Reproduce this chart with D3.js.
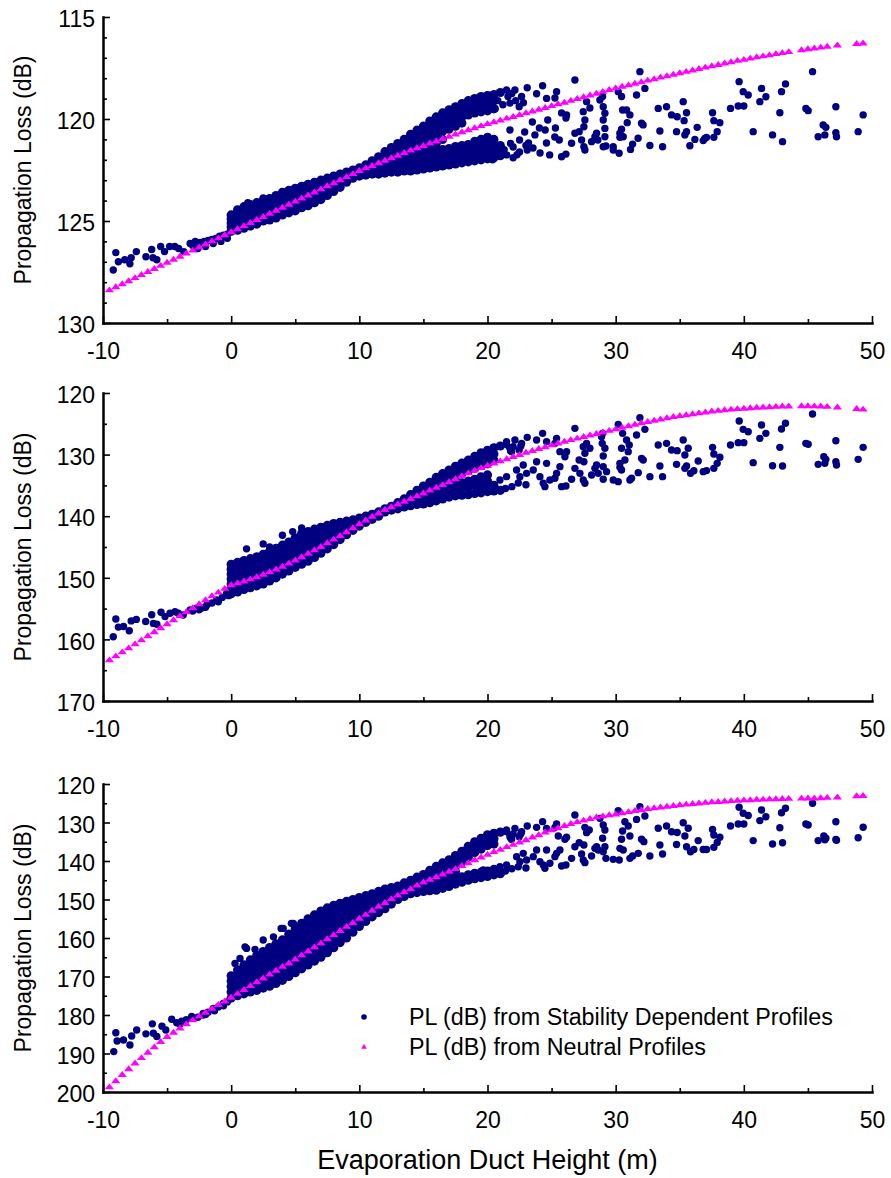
<!DOCTYPE html>
<html>
<head>
<meta charset="utf-8">
<script src="https://cdn.jsdelivr.net/npm/d3@7"></script>
<style>
html, body { margin: 0; padding: 0; background: #fff; }
svg { display: block; font-family: "Liberation Sans", Arial, Helvetica, sans-serif; }
</style>
</head>
<body>
<svg id="chart" width="891" height="1178"></svg>
<script>
// ---------------- axis ticks ----------------
const xTicks = [-10, 0, 10, 20, 30, 40, 50];
const xMinorTicks = [-5, 5, 15, 25, 35, 45];
const yTicks1 = [115, 120, 125, 130];
const yMinor1 = [116, 117, 118, 119, 121, 122, 123, 124, 126, 127, 128, 129];
const yTicks2 = [120, 130, 140, 150, 160, 170];
const yMinor2 = [125, 135, 145, 155, 165];
const yTicks3 = [120, 130, 140, 150, 160, 170, 180, 190, 200];
const yMinor3 = [125, 135, 145, 155, 165, 175, 185, 195];

// ---------------- neutral profiles: duct height (m) and PL (dB) ----------------
const neutralH = [
  -9.5, -9, -8.5, -8, -7.5, -7, -6.5, -6, -5.5, -5,
  -4.5, -4, -3.5, -3, -2.5, -2, -1.5, -1, -0.5, 0,
  0.5, 1, 1.5, 2, 2.5, 3, 3.5, 4, 4.5, 5,
  5.5, 6, 6.5, 7, 7.5, 8, 8.5, 9, 9.5, 10,
  10.5, 11, 11.5, 12, 12.5, 13, 13.5, 14, 14.5, 15,
  15.5, 16, 16.5, 17, 17.5, 18, 18.5, 19, 19.5, 20,
  20.5, 21, 21.5, 22, 22.5, 23, 23.5, 24, 24.5, 25,
  25.5, 26, 26.5, 27, 27.5, 28, 28.5, 29, 29.5, 30,
  30.5, 31, 31.5, 32, 32.5, 33, 33.5, 34, 34.5, 35,
  35.5, 36, 36.5, 37, 37.5, 38, 38.5, 39, 39.5, 40,
  40.5, 41, 41.5, 42, 42.5, 43, 43.5, 44.5, 45, 45.5,
  46, 46.5, 47.3, 48.8, 49.3
];
const neutralPL1 = [
  128.4, 128.25, 128.1, 127.95, 127.8, 127.65, 127.5, 127.35, 127.2, 127.05,
  126.9, 126.75, 126.6, 126.45, 126.3, 126.15, 126.0, 125.85, 125.7, 125.55,
  125.4, 125.25, 125.1, 124.95, 124.8, 124.65, 124.5, 124.35, 124.2, 124.05,
  123.9, 123.75, 123.6, 123.45, 123.3, 123.15, 123.0, 122.85, 122.7, 122.55,
  122.42, 122.3, 122.17, 122.05, 121.92, 121.8, 121.67, 121.55, 121.43, 121.32,
  121.2, 121.1, 120.98, 120.87, 120.76, 120.65, 120.55, 120.45, 120.35, 120.25,
  120.16, 120.07, 119.98, 119.9, 119.81, 119.72, 119.63, 119.55, 119.46, 119.37,
  119.28, 119.2, 119.11, 119.02, 118.93, 118.85, 118.76, 118.67, 118.58, 118.5,
  118.42, 118.35, 118.27, 118.2, 118.12, 118.05, 117.97, 117.9, 117.83, 117.76,
  117.69, 117.62, 117.55, 117.48, 117.41, 117.35, 117.28, 117.22, 117.15, 117.1,
  117.04, 116.98, 116.93, 116.88, 116.82, 116.77, 116.72, 116.63, 116.58, 116.54,
  116.5, 116.46, 116.4, 116.32, 116.3
];
const neutralPL2 = [
  163.4, 162.75, 162.1, 161.45, 160.8, 160.15, 159.5, 158.85, 158.2, 157.55,
  156.9, 156.25, 155.6, 154.95, 154.3, 153.65, 153.0, 152.4, 151.8, 151.2,
  150.9, 150.6, 150.25, 149.9, 149.5, 149.1, 148.65, 148.2, 147.7, 147.2,
  146.65, 146.1, 145.55, 145.0, 144.4, 143.8, 143.2, 142.6, 141.95, 141.3,
  140.7, 140.1, 139.55, 139.0, 138.55, 138.1, 137.65, 137.2, 136.75, 136.3,
  135.85, 135.4, 134.95, 134.5, 134.0, 133.5, 133.05, 132.6, 132.2, 131.8,
  131.45, 131.1, 130.75, 130.4, 130.05, 129.7, 129.4, 129.1, 128.8, 128.5,
  128.2, 127.9, 127.65, 127.4, 127.15, 126.9, 126.65, 126.4, 126.15, 125.9,
  125.65, 125.4, 125.15, 124.9, 124.7, 124.5, 124.3, 124.1, 123.9, 123.75,
  123.6, 123.45, 123.3, 123.15, 123.0, 122.9, 122.8, 122.7, 122.62, 122.55,
  122.47, 122.4, 122.35, 122.3, 122.25, 122.2, 122.18, 122.15, 122.15, 122.17,
  122.2, 122.25, 122.35, 122.6, 122.7
];
const neutralPL3 = [
  198.8, 197.2, 195.6, 194.1, 192.6, 191.2, 189.8, 188.4, 187.0, 185.7,
  184.6, 183.5, 182.4, 181.4, 180.4, 179.4, 178.4, 177.4, 176.5, 175.5,
  174.5, 173.5, 172.5, 171.5, 170.5, 169.5, 168.5, 167.5, 166.6, 165.6,
  164.5, 163.5, 162.4, 161.4, 160.3, 159.2, 158.2, 157.1, 156.1, 155.0,
  154.0, 152.9, 151.9, 150.9, 149.9, 149.0, 148.1, 147.3, 146.4, 145.6,
  144.9, 144.2, 143.5, 142.8, 142.1, 141.3, 140.6, 139.8, 139.1, 138.4,
  137.7, 137.1, 136.4, 135.8, 135.2, 134.6, 133.9, 133.3, 132.6, 132.0,
  131.5, 130.9, 130.4, 129.9, 129.5, 129.1, 128.7, 128.4, 128.1, 127.9,
  127.6, 127.3, 127.0, 126.8, 126.5, 126.3, 126.1, 125.9, 125.7, 125.5,
  125.35, 125.2, 125.05, 124.9, 124.75, 124.65, 124.55, 124.45, 124.35, 124.25,
  124.2, 124.1, 124.05, 124.0, 123.95, 123.9, 123.85, 123.8, 123.75, 123.75,
  123.7, 123.6, 123.5, 123.2, 123.1
];

// ---------------- stability dependent profiles, panel 1 ----------------
const stabilitySparse1 = [
  [-9.2,127.4],[-9.0,126.55],[-8.8,127.0],[-8.3,126.9],[-7.9,127.1],[-7.8,126.8],[-7.4,126.5],
  [-6.65,126.75],[-6.2,126.4],[-6.1,126.8],[-5.8,126.9],[-5.5,126.25],[-5.2,126.5],[-4.8,126.25],
  [-4.4,126.25],[-4.1,126.35],[-3.7,126.5],[-3.2,126.1],[-2.8,126.0],[-3.0,126.2],[-2.6,126.35],
  [-2.4,126.05],[-2.1,126.0],[-2.0,126.25],[-1.8,125.95],[-1.5,125.9],[-1.4,126.1],[-1.2,125.85],
  [-0.9,125.75],[-0.8,126.0],[-0.6,125.7],[-0.3,125.65],[-0.3,125.85],
  [1.3,124.1],[2.5,123.87],[4.0,123.56],
  [20.8,119.1],[20.6,119.5],[21.2,119.3],[21.6,118.9],[22.2,119.1],[21.9,118.75],[22.8,119.2],
  [21.3,121.5],[21.8,121.2],[22.3,121.75],[23.0,121.3],
  [20.19,121.67],[20.4,122.0],[20.97,121.52],[21.5,121.76],[22.0,121.37],[22.0,121.9],[22.5,121.03],
  [22.5,121.62],[23.1,121.52],[23.2,121.18],[23.7,120.78],[23.55,121.42],[24.1,121.67],[24.5,120.54],
  [24.6,121.18],[24.85,121.76],[25.25,120.88],[25.6,121.03],[25.3,120.44],[24.7,120.05],[24.05,120.44],
  [23.5,120.15],[22.9,120.64],[21.75,120.54],
  [21.49,118.58],[21.75,119.22],[22.14,118.58],[22.66,118.9],[22.47,119.4],[23.1,118.47],[23.83,118.76],
  [24.3,118.37],[24.61,118.99],[25.39,118.66],[25.26,118.97],[26.17,119.8],[26.12,119.95],[25.78,119.7],
  [26.82,118.09],[27.6,120.05],[27.47,119.64],[27.73,119.15],[27.99,119.46],[27.52,120.38],[27.15,120.62],
  [26.82,120.7],[26.56,121.19],[26.12,121.72],[25.78,121.85],[28.51,120.7],[28.38,120.87],[28.61,121.03],
  [28.12,121.11],[27.6,121.52],[27.52,121.36],[27.34,121.03],[29.03,120.05],[29.16,119.72],[29.03,119.4],
  [28.77,119.07],[28.98,118.9],[29.16,120.87],[29.16,120.46],[29.24,121.32],[29.03,121.36],[29.81,121.52],
  [29.81,121.36],[30.27,121.68],[30.2,118.66],[30.46,118.9],[30.54,119.56],[30.85,119.56],[31.11,119.8],
  [30.9,120.18],[30.46,120.5],[30.33,120.7],[30.59,120.87],[30.33,120.9],[32.02,120.21],[32.14,120.29],
  [31.75,120.94],[31.32,121.23],[31.16,121.49],[31.89,117.68],[32.28,118.5],[31.63,118.82],[32.67,121.3],
  [33.32,119.48],[33.97,119.4],[33.45,120.59],[33.66,121.36],[34.36,119.8],[34.8,119.89],[35.27,119.15],
  [35.53,119.69],[35.34,120.08],[34.75,120.62],[35.53,120.62],[35.4,120.78],[35.79,121.31],[36.36,120.41],
  [36.18,121.0],[36.83,121.06],[36.96,120.95],[37.09,120.9],[37.56,119.69],[37.66,120.08],[38.13,120.18],
  [37.92,120.62],[37.66,120.9],[38.96,119.48],[39.63,118.17],[39.95,118.66],[40.34,118.82],[39.56,119.36],
  [40.0,119.36],[40.73,120.62],[41.38,118.5],[41.72,118.91],[41.25,119.15],[42.94,118.66],[43.25,118.28],
  [42.81,119.69],[42.24,120.78],[43.02,121.11],[45.36,117.68],[44.84,119.48],[45.02,119.59],[46.19,120.29],
  [46.4,120.41],[45.8,120.87],[46.32,120.78],[47.18,119.4],[47.18,120.67],[47.23,120.87],[49.31,119.8],
  [48.92,120.62]
];
const stabilityDense1 = [
  [0.0,[124.7,124.9,125.1,125.3,125.5]],
  [0.5,[124.45,124.65,124.85,125.05,125.25,125.45]],
  [1.0,[124.3,124.5,124.7,124.9,125.1,125.35]],
  [1.5,[124.2,124.4,124.6,124.8,125.0,125.25]],
  [2.0,[124.1,124.3,124.5,124.7,124.9,125.15]],
  [2.5,[124.0,124.2,124.4,124.6,124.8,125.0]],
  [3.0,[123.9,124.1,124.3,124.5,124.7,124.95]],
  [3.5,[123.75,123.95,124.15,124.35,124.55,124.85]],
  [4.0,[123.6,123.8,124.0,124.2,124.45,124.7]],
  [4.5,[123.5,123.7,123.9,124.1,124.35,124.6]],
  [5.0,[123.4,123.6,123.8,124.0,124.25,124.5]],
  [5.5,[123.3,123.5,123.7,123.9,124.1,124.35]],
  [6.0,[123.2,123.4,123.6,123.8,124.0,124.25]],
  [6.5,[123.1,123.3,123.5,123.7,123.9,124.1]],
  [7.0,[123.0,123.2,123.4,123.6,123.8,123.95]],
  [7.5,[122.9,123.1,123.3,123.5,123.75]],
  [8.0,[122.8,123.0,123.2,123.4,123.55]],
  [8.5,[122.7,122.9,123.1,123.35]],
  [9.0,[122.6,122.8,123.0,123.1]],
  [9.5,[122.5,122.7,122.9]],
  [10.0,[122.4,122.6,122.8]],
  [10.5,[122.25,122.5,122.75]],
  [11.0,[122.05,122.3,122.5,122.7]],
  [11.5,[121.85,122.1,122.35,122.7]],
  [12.0,[121.6,121.8,122.0,122.2,122.4,122.65]],
  [12.5,[121.4,121.6,121.8,122.0,122.2,122.4,122.6]],
  [13.0,[121.2,121.4,121.6,121.8,122.0,122.2,122.4,122.6]],
  [13.5,[121.0,121.2,121.4,121.6,121.8,122.0,122.2,122.4,122.55]],
  [14.0,[120.75,120.95,121.15,121.35,121.55,121.75,121.95,122.15,122.35,122.55]],
  [14.5,[120.55,120.75,120.95,121.15,121.35,121.55,121.75,121.95,122.15,122.3,122.5]],
  [15.0,[120.35,120.55,120.75,120.95,121.15,121.35,121.55,121.75,121.95,122.15,122.45]],
  [15.5,[120.1,120.3,120.5,120.7,120.9,121.1,121.3,121.6,121.8,122.0,122.2,122.4]],
  [16.0,[119.9,120.1,120.3,120.5,120.7,120.9,121.2,121.5,121.7,121.9,122.1,122.35]],
  [16.5,[119.7,119.9,120.1,120.35,120.6,121.0,121.5,121.7,121.9,122.1,122.3]],
  [17.0,[119.55,119.75,119.95,120.2,120.5,121.45,121.65,121.85,122.05,122.25]],
  [17.5,[119.4,119.6,119.8,120.05,120.35,121.35,121.55,121.75,121.95,122.2]],
  [18.0,[119.25,119.45,119.65,119.9,120.2,121.3,121.5,121.7,121.9,122.15]],
  [18.5,[119.1,119.3,119.5,119.8,121.25,121.45,121.65,121.85,122.1]],
  [19.0,[119.0,119.2,119.4,119.7,121.1,121.35,121.55,121.8,122.05]],
  [19.5,[118.9,119.1,119.3,119.65,121.0,121.25,121.5,121.75,122.0]],
  [20.0,[118.85,119.05,119.3,119.6,120.9,121.2,121.45,121.7,121.95]],
  [20.5,[118.8,119.1,119.5,121.0,121.3,121.6,121.9]],
  [21.0,[118.7,121.3,121.8]]
];

// ---------------- stability dependent profiles, panel 2 ----------------
const stabilitySparse2 = [
  [-9.2,159.56],[-9.0,156.7],[-8.8,158.0],[-8.4,157.9],[-7.95,158.6],[-7.8,157.0],[-7.4,156.75],
  [-6.67,157.1],[-6.2,156.0],[-6.07,157.4],[-5.8,157.55],[-5.47,155.6],[-5.16,156.3],[-4.77,155.75],
  [-4.38,155.5],[-4.12,155.75],[-3.74,156.05],[-3.2,155.2],[-2.7,154.95],[-1.9,154.4],[-1.13,153.6],
  [-0.35,152.5],[-2.3,154.9],[-1.5,154.1],[-0.7,153.2],[-0.2,152.9],[-2.0,154.8],[-1.0,153.9],
  [-3.0,155.4],[-2.5,155.2],
  [1.2,145.3],[2.5,144.5],[4.0,143.1],[4.8,142.5],[3.0,145.0],[5.5,141.9],
  [21.5,128.4],[22.0,128.7],[21.8,129.4],[22.6,128.6],[21.4,135.5],[21.9,135.2],[22.4,134.6],[23.0,134.9],
  [26.82,125.74],[30.2,125.09],[30.54,126.55],[30.85,127.63],[31.06,128.44],[30.46,128.98],[30.98,129.52],
  [30.72,130.88],[30.33,131.42],[30.46,132.5],[30.33,132.07],[32.02,130.61],[32.15,130.88],[31.76,132.93],
  [31.24,133.85],[31.11,134.12],[30.2,134.39],[29.81,134.12],[29.03,134.01],[29.29,132.77],[29.03,131.96],
  [29.03,130.23],[29.16,128.98],[28.95,128.17],[28.9,127.09],[28.98,126.55],[28.51,131.69],[28.38,132.23],
  [28.64,133.04],[28.12,133.31],[27.6,134.66],[27.47,134.12],[27.21,133.04],[27.52,131.15],[27.15,130.88],
  [27.6,129.79],[27.47,128.71],[27.73,128.17],[27.99,128.98],[26.82,132.23],[26.56,134.01],[26.12,135.1],
  [25.78,135.2],[26.17,129.52],[26.04,130.34],[25.65,129.52],[25.39,127.36],[25.26,128.17],[24.61,127.9],
  [24.3,126.55],[23.83,127.63],[23.1,127.2],[22.66,128.17],[22.14,127.63],[21.75,128.98],[21.88,129.52],
  [22.47,129.25],[21.49,127.9],
  [22.27,132.5],[22.53,133.58],[23.05,133.04],[23.57,132.5],[24.09,133.58],[24.35,134.66],[24.48,135.2],
  [24.87,134.12],[25.26,133.85],[25.39,133.04],[25.65,131.96],[24.61,131.42],[23.83,131.15],[22.79,131.69],
  [21.49,133.58],[20.97,134.12],[20.19,135.2],[19.67,134.66],
  [31.89,124.0],[32.28,125.9],[31.63,126.82],[33.32,128.44],[33.97,128.17],[34.36,129.25],[34.8,129.36],
  [35.27,127.63],[35.66,128.98],[35.4,130.06],[33.45,131.85],[33.66,133.58],[32.67,133.58],[34.75,131.58],
  [35.53,131.85],[35.4,132.23],[35.84,133.04],[36.44,131.04],[36.1,132.61],[36.83,132.77],[37.09,132.6],
  [37.56,128.82],[37.66,129.9],[38.13,130.44],[37.92,131.42],[37.66,132.23],[38.96,128.44],[39.64,124.55],
  [39.95,125.9],[40.34,126.28],[39.56,128.06],[40.0,128.06],[40.73,131.31],[41.38,125.19],[41.72,126.55],
  [41.25,127.36],[42.94,125.84],[43.25,124.92],[42.81,128.82],[42.24,131.8],[43.02,131.85],[45.36,123.41],
  [44.84,128.17],[45.02,128.33],[46.24,130.34],[46.4,130.77],[45.8,131.58],[46.32,131.42],[47.18,127.74],
  [47.18,131.15],[47.23,131.69],[49.31,128.82],[48.92,130.77]
];
const stabilityDense2 = [
  [0.0,[147.8,148.6,149.4,150.2,151.0,151.8,152.6]],
  [0.5,[147.5,148.3,149.1,149.9,150.7,151.5,152.3]],
  [1.0,[147.2,148.0,148.8,149.6,150.4,151.2,151.9]],
  [1.5,[146.9,147.7,148.5,149.3,150.1,150.9,151.6]],
  [2.0,[146.6,147.4,148.2,149.0,149.8,150.6,151.3]],
  [2.5,[146.2,147.0,147.8,148.6,149.4,150.2,151.0]],
  [3.0,[145.7,146.5,147.3,148.1,148.9,149.7,150.5]],
  [3.5,[145.2,146.0,146.8,147.6,148.4,149.2,150.0]],
  [4.0,[144.7,145.5,146.3,147.1,147.9,148.7,149.4]],
  [4.5,[144.2,145.0,145.8,146.6,147.4,148.2,148.9]],
  [5.0,[143.5,144.3,145.1,145.9,146.7,147.5,148.3]],
  [5.5,[142.8,143.6,144.4,145.2,146.0,146.8,147.8]],
  [6.0,[142.5,143.3,144.1,144.9,145.7,146.5,147.3]],
  [6.5,[142.1,142.9,143.7,144.5,145.3,146.1,146.7]],
  [7.0,[141.8,142.6,143.4,144.2,145.0,145.6,146.0]],
  [7.5,[141.5,142.3,143.1,143.9,144.7,145.3]],
  [8.0,[141.2,142.0,142.8,143.6,144.3,144.6]],
  [8.5,[141.0,141.8,142.6,143.3,143.8]],
  [9.0,[140.8,141.6,142.4,143.0]],
  [9.5,[140.6,141.4,142.0,142.3]],
  [10.0,[140.3,141.0,141.6]],
  [10.5,[140.0,140.5,141.0]],
  [11.0,[139.7,140.2,140.5]],
  [11.5,[139.3,139.8,140.0]],
  [12.0,[138.8,139.3]],
  [12.5,[138.4,139.0]],
  [13.0,[137.8,138.3,138.8]],
  [13.5,[137.2,137.9,138.5]],
  [14.0,[136.5,137.3,138.0,138.3]],
  [14.5,[135.8,136.6,137.4,138.1]],
  [15.0,[135.1,135.9,136.7,137.4,138.0]],
  [15.5,[134.5,135.3,136.1,137.0,137.8]],
  [16.0,[133.7,134.5,135.3,135.95,136.6,137.5]],
  [16.5,[133.1,133.9,134.8,135.55,136.3,137.2]],
  [17.0,[132.5,133.3,134.2,135.1,136.0,136.9]],
  [17.5,[131.9,132.7,133.6,134.9,135.8,136.7]],
  [18.0,[131.4,132.2,133.1,134.6,135.5,136.6]],
  [18.5,[130.9,131.7,132.6,134.3,135.3,136.5]],
  [19.0,[130.3,131.1,132.2,134.0,135.0,136.3]],
  [19.5,[129.7,130.5,131.8,133.6,134.6,135.5,136.2]],
  [20.0,[129.3,130.2,131.5,133.3,134.3,135.2,136.0]],
  [20.5,[128.9,129.9,130.9,135.0,135.9]],
  [21.0,[128.6,135.8]]
];

// ---------------- stability dependent profiles, panel 3 ----------------
const stabilitySparse3 = [
  [-9.16,189.5],[-9.0,184.6],[-8.9,186.75],[-8.4,186.5],[-7.9,187.8],[-7.76,185.45],[-7.37,183.9],
  [-6.65,184.9],[-6.15,182.3],[-6.07,184.75],[-5.8,185.6],[-5.4,182.9],[-5.1,183.9],[-4.64,181.1],
  [-4.25,182.0],[-3.86,181.6],[-3.08,180.4],[-2.18,179.6],[-1.4,178.3],[-0.62,177.0],[-2.6,180.6],
  [-2.2,180.0],[-1.8,179.3],[-1.0,177.9],[-0.3,176.6],[-0.6,177.6],[-1.3,178.9],[-2.0,179.9],
  [-3.5,181.2],[-4.0,182.4],
  [0.3,166.6],[0.69,165.3],[1.08,162.3],[1.2,162.7],[1.6,165.9],[1.86,162.95],[2.5,160.5],
  [3.3,159.7],[3.9,157.5],[4.06,157.5],[4.7,156.2],[4.85,156.2],
  [21.5,132.4],[22.0,133.0],[21.8,134.0],[22.6,132.9],[21.4,142.6],[21.9,142.0],[22.4,141.5],[23.0,141.8],
  [26.82,128.05],[30.2,126.93],[30.72,129.78],[30.54,132.21],[30.98,130.91],[31.11,133.51],[30.46,134.37],
  [30.33,136.71],[30.59,137.14],[32.02,134.37],[32.2,134.98],[31.76,138.01],[31.32,138.7],[31.11,139.31],
  [30.28,139.74],[29.81,139.57],[29.24,139.31],[29.03,137.58],[29.16,136.28],[28.98,134.11],[29.16,131.95],
  [29.03,130.65],[28.77,128.92],[28.51,136.28],[28.38,136.71],[28.64,137.14],[28.12,138.7],[27.6,140.43],
  [27.47,139.74],[27.34,138.18],[27.52,135.84],[27.15,135.24],[27.73,132.64],[27.6,131.26],[27.94,131.95],
  [26.82,136.28],[26.56,139.31],[26.12,141.04],[25.78,141.3],[26.17,133.85],[26.04,134.37],[25.52,133.51],
  [25.39,130.39],[25.26,131.26],[24.61,131.52],[24.3,129.78],[23.83,131.26],[23.1,130.91],[22.66,132.38],
  [22.14,131.52],[21.75,133.68],[21.88,134.37],[22.47,133.68],[21.49,131.95],
  [22.27,138.87],[22.53,140.17],[23.05,139.74],[23.57,138.87],[24.09,140.17],[24.35,141.04],[24.48,141.9],
  [24.87,140.6],[25.26,138.87],[25.39,138.01],[25.65,137.14],[24.61,137.14],[23.83,137.14],[22.79,138.01],
  [21.49,141.04],[20.97,141.47],[20.19,143.03],[19.67,142.34],[19.41,143.64],[18.89,144.07],[18.37,144.5],
  [31.89,125.9],[32.28,128.3],[31.63,129.2],[33.32,131.5],[33.97,130.9],[34.36,132.4],[34.8,132.6],
  [35.27,130.05],[35.66,131.5],[35.4,133.5],[33.45,135.85],[33.66,138.2],[32.67,138.7],[34.75,135.7],
  [35.53,136.3],[35.84,137.6],[36.44,134.7],[36.1,137.0],[36.83,137.0],[37.09,137.0],[37.56,131.8],
  [37.66,133.25],[38.13,133.85],[37.92,135.2],[37.66,136.45],[38.96,130.9],[39.63,126.05],[39.95,127.6],
  [40.34,128.2],[39.56,130.4],[40.0,130.4],[40.73,134.7],[41.38,126.75],[41.72,128.5],[41.25,129.5],
  [42.94,127.45],[43.25,126.3],[42.81,131.35],[42.24,135.6],[43.02,135.25],[45.36,125.0],[44.84,130.4],
  [45.02,130.65],[46.24,133.5],[46.4,134.1],[45.8,134.7],[46.32,134.5],[47.18,129.8],[47.18,134.4],
  [47.23,134.6],[49.31,131.25],[48.92,133.95]
];
const stabilityDense3 = [
  [0.0,[169.8,171.2,172.6,174.0,175.6]],
  [0.5,[168.3,169.7,171.1,172.5,173.9,175.0]],
  [1.0,[167.0,168.4,169.8,171.2,172.6,174.0,174.5]],
  [1.5,[165.7,167.1,168.5,169.9,171.3,172.7,174.0]],
  [2.0,[164.5,165.9,167.3,168.7,170.1,171.5,172.9,173.6]],
  [2.5,[163.5,164.9,166.3,167.7,169.1,170.5,171.9,173.0]],
  [3.0,[162.5,163.9,165.3,166.7,168.1,169.5,170.9,172.5]],
  [3.5,[161.5,162.9,164.3,165.7,167.1,168.5,169.9,171.8]],
  [4.0,[160.5,161.9,163.3,164.7,166.1,167.5,168.9,170.3,171.0]],
  [4.5,[159.0,160.4,161.8,163.2,164.6,166.0,167.4,168.8,170.0]],
  [5.0,[157.5,158.9,160.3,161.7,163.1,164.5,165.9,167.3,169.0]],
  [5.5,[156.2,157.6,159.0,160.4,161.8,163.2,164.6,166.0,167.4,168.0]],
  [6.0,[155.0,156.4,157.8,159.2,160.6,162.0,163.4,164.8,166.2,167.0]],
  [6.5,[154.0,155.4,156.8,158.2,159.6,161.0,162.4,163.8,165.2,166.0]],
  [7.0,[153.0,154.4,155.8,157.2,158.6,160.0,161.4,162.8,164.2,165.0]],
  [7.5,[152.2,153.6,155.0,156.4,157.8,159.2,160.6,162.0,163.3,163.8]],
  [8.0,[151.5,152.9,154.3,155.7,157.1,158.5,159.9,161.3,162.5]],
  [8.5,[151.0,152.4,153.8,155.2,156.6,158.0,159.4,160.6,161.2]],
  [9.0,[150.5,151.9,153.3,154.7,156.1,157.5,158.9,160.0]],
  [9.5,[150.0,151.4,152.8,154.2,155.6,157.0,158.5]],
  [10.0,[149.5,150.9,152.3,153.7,155.1,156.5,157.0]],
  [10.5,[149.0,150.4,151.8,153.2,154.6,155.7]],
  [11.0,[148.5,149.9,151.3,152.7,154.1,154.5]],
  [11.5,[147.9,149.3,150.7,152.1,153.4]],
  [12.0,[147.3,148.7,150.1,151.5,152.4]],
  [12.5,[146.9,148.3,149.7,151.2]],
  [13.0,[146.5,147.9,149.3,150.0]],
  [13.5,[145.7,147.1,148.5,149.2]],
  [14.0,[145.0,146.4,147.8,148.5]],
  [14.5,[144.2,145.6,147.0,148.2]],
  [15.0,[143.5,144.9,146.3,147.9]],
  [15.5,[142.4,143.8,145.2,146.6,147.7]],
  [16.0,[141.4,142.8,144.2,145.2,146.2,147.6]],
  [16.5,[140.5,141.9,143.3,144.5,145.8,147.1]],
  [17.0,[139.7,141.1,142.5,143.9,145.3,146.6]],
  [17.5,[138.6,140.0,141.4,142.8,144.7,146.0]],
  [18.0,[137.5,138.9,140.3,144.1,145.5]],
  [18.5,[136.2,137.6,139.0,143.6,145.0]],
  [19.0,[135.0,136.4,137.8,143.2,144.6]],
  [19.5,[134.1,135.5,136.9,142.9,144.3]],
  [20.0,[133.2,134.6,136.0,142.6,144.0]],
  [20.5,[132.8,134.2,135.6,142.2,143.6]],
  [21.0,[132.5,143.3]]
];

// ---------------- text ----------------
const yTitle = "Propagation Loss (dB)";
const xTitle = "Evaporation Duct Height (m)";
const legendLabels = ["PL (dB) from Stability Dependent Profiles", "PL (dB) from Neutral Profiles"];

// ---------------- drawing ----------------
const NAVY = "#000080";
const MAGENTA = "#ff00ff";
const svg = d3.select("#chart");
const x = d3.scaleLinear().domain([-10, 50]).range([103, 872]);

const panels = [
  { domain: [115, 130], range: [17, 323], ticks: yTicks1, minor: yMinor1,
    neutral: neutralPL1, sparse: stabilitySparse1, dense: stabilityDense1 },
  { domain: [120, 170], range: [393, 701], ticks: yTicks2, minor: yMinor2,
    neutral: neutralPL2, sparse: stabilitySparse2, dense: stabilityDense2 },
  { domain: [120, 200], range: [784, 1092], ticks: yTicks3, minor: yMinor3,
    neutral: neutralPL3, sparse: stabilitySparse3, dense: stabilityDense3 }
];

const triangle = d3.symbol(d3.symbolTriangle, 28);

function styleAxis(g, fontSize) {
  g.attr("font-family", null).attr("font-size", null);
  g.select(".domain").attr("stroke", "#000").attr("stroke-width", 2.5)
    .attr("stroke-linecap", "square");
  g.selectAll(".tick line").attr("stroke", "#000").attr("stroke-width", 1.6);
  g.selectAll(".tick text").attr("fill", "#000").style("font-size", fontSize + "px");
}

panels.forEach(p => {
  const y = d3.scaleLinear().domain(p.domain).range(p.range);
  const g = svg.append("g");

  // overlapping cloud of stability-dependent results (drawn slightly larger so the
  // heavily overplotted core reads as a solid band) and the scattered outliers
  const dense = p.dense.flatMap(([h, vals]) => vals.map(v => [h, v]));
  const dots = g.append("g").attr("fill", NAVY);
  dots.selectAll("circle.core")
    .data(dense)
    .join("circle")
    .attr("class", "core")
    .attr("cx", d => x(d[0]))
    .attr("cy", d => y(d[1]))
    .attr("r", 4.6);
  dots.selectAll("circle.pt")
    .data(p.sparse)
    .join("circle")
    .attr("class", "pt")
    .attr("cx", d => x(d[0]))
    .attr("cy", d => y(d[1]))
    .attr("r", 3.7);

  const neutral = neutralH.map((h, i) => [h, p.neutral[i]]);
  g.append("g")
    .selectAll("path")
    .data(neutral)
    .join("path")
    .attr("d", triangle)
    .attr("transform", d => `translate(${x(d[0])},${y(d[1])}) scale(1.15,0.85)`)
    .attr("fill", MAGENTA);

  // y axis: inward ticks, labels on the left
  const yMinorAxis = g.append("g").attr("transform", "translate(103,0)")
    .call(d3.axisLeft(y).tickValues(p.minor).tickSize(-4).tickSizeOuter(0).tickFormat(""));
  yMinorAxis.select(".domain").remove();
  yMinorAxis.selectAll(".tick line").attr("stroke", "#000").attr("stroke-width", 1.6);

  const yAxis = g.append("g").attr("transform", "translate(103,0)")
    .call(d3.axisLeft(y).tickValues(p.ticks).tickSize(-7).tickSizeOuter(0).tickPadding(8)
      .tickFormat(d => String(d)));
  styleAxis(yAxis, 23);
  yAxis.selectAll(".tick text").attr("dy", "0.42em");

  // x axis
  const base = p.range[1];
  const xMinorAxis = g.append("g").attr("transform", `translate(0,${base})`)
    .call(d3.axisBottom(x).tickValues(xMinorTicks).tickSize(-4).tickSizeOuter(0).tickFormat(""));
  xMinorAxis.select(".domain").remove();
  xMinorAxis.selectAll(".tick line").attr("stroke", "#000").attr("stroke-width", 1.6);

  const xAxis = g.append("g").attr("transform", `translate(0,${base})`)
    .call(d3.axisBottom(x).tickValues(xTicks).tickSize(-7).tickSizeOuter(0).tickPadding(20)
      .tickFormat(d => String(d)));
  styleAxis(xAxis, 23);

  // y title
  g.append("text")
    .attr("transform", `translate(31,${(p.range[0] + p.range[1]) / 2}) rotate(-90)`)
    .attr("text-anchor", "middle")
    .style("font-size", "23px")
    .attr("fill", "#000")
    .text(yTitle);
});

// x title
svg.append("text")
  .attr("x", x(20))
  .attr("y", 1169)
  .attr("text-anchor", "middle")
  .style("font-size", "27px")
  .attr("fill", "#000")
  .text(xTitle);

// legend
const legend = svg.append("g");
legend.append("circle").attr("cx", 364).attr("cy", 1017).attr("r", 2.8).attr("fill", NAVY);
legend.append("path").attr("d", d3.symbol(d3.symbolTriangle, 14))
  .attr("transform", "translate(364,1047)").attr("fill", MAGENTA);
legend.selectAll("text.leg")
  .data(legendLabels)
  .join("text")
  .attr("class", "leg")
  .attr("x", 409)
  .attr("y", (d, i) => 1025 + i * 30)
  .style("font-size", "23.3px")
  .attr("fill", "#000")
  .text(d => d);
</script>
</body>
</html>
